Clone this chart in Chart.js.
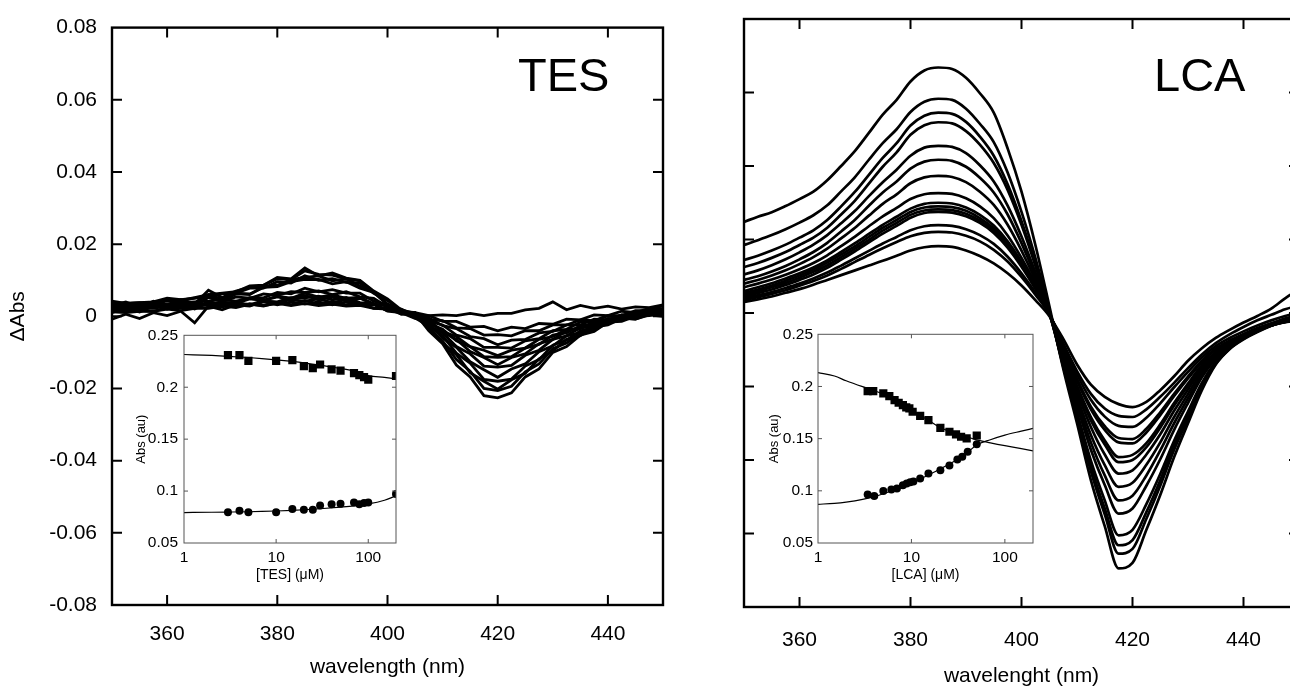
<!DOCTYPE html>
<html><head><meta charset="utf-8">
<script src="https://cdn.jsdelivr.net/npm/chart.js@4.4.1/dist/chart.umd.min.js"></script>
<style>
html,body{margin:0;padding:0;background:#fff;width:1290px;height:686px;overflow:hidden;position:relative;font-family:"Liberation Sans",Arial,Helvetica,sans-serif;}
canvas{position:absolute;display:block;}
.tag{position:absolute;font-size:47px;line-height:1;color:#000;white-space:nowrap;}
</style></head><body>
<canvas id="mainL" width="700" height="686" style="left:0;top:0;"></canvas>
<canvas id="mainR" width="620" height="692" style="left:700px;top:0;"></canvas>
<canvas id="insetL" width="290" height="270" style="left:120px;top:320px;"></canvas>
<canvas id="insetR" width="292" height="270" style="left:755px;top:320px;"></canvas>
<div class="tag" style="left:518px;top:51px;">TES</div>
<div class="tag" style="left:1154px;top:51px;">LCA</div>
<script>
// ---------- data ----------
const wavelengths = [350,352.5,355,357.5,360,362.5,365,367.5,370,372.5,375,377.5,380,382.5,385,387.5,390,392.5,395,397.5,400,402.5,405,407.5,410,412.5,415,417.5,420,422.5,425,427.5,430,432.5,435,437.5,440,442.5,445,447.5,450];
const xTickValues = [360,380,400,420,440];
const xTickLabels = ['360','380','400','420','440'];
const yTickValues = [-0.08,-0.06,-0.04,-0.02,0,0.02,0.04,0.06,0.08];
const yTickLabels = ['-0.08','-0.06','-0.04','-0.02','0','0.02','0.04','0.06','0.08'];

// TES difference spectra (ΔAbs)
const tes01 = [0.0020,0.0030,0.0018,0.0034,0.0030,0.0046,0.0034,0.0072,0.0052,0.0070,0.0080,0.0086,0.0108,0.0104,0.0134,0.0112,0.0120,0.0106,0.0100,0.0070,0.0048,0.0018,0.0008,-0.0040,-0.0076,-0.0135,-0.0168,-0.0220,-0.0226,-0.0212,-0.0168,-0.0146,-0.0100,-0.0084,-0.0052,-0.0042,-0.0016,-0.0014,0.0000,0.0002,0.0012];
const tes02 = [0.0034,0.0030,0.0032,0.0036,0.0046,0.0044,0.0052,0.0060,0.0064,0.0068,0.0084,0.0086,0.0104,0.0102,0.0126,0.0116,0.0114,0.0104,0.0098,0.0068,0.0046,0.0014,0.0006,-0.0034,-0.0068,-0.0120,-0.0152,-0.0200,-0.0206,-0.0194,-0.0154,-0.0132,-0.0090,-0.0074,-0.0048,-0.0038,-0.0014,-0.0010,0.0004,0.0006,0.0016];
const tes03 = [0.0010,0.0024,0.0012,0.0028,0.0024,0.0038,0.0026,0.0054,0.0042,0.0062,0.0060,0.0082,0.0086,0.0102,0.0108,0.0112,0.0098,0.0104,0.0084,0.0068,0.0034,0.0018,-0.0004,-0.0028,-0.0074,-0.0106,-0.0156,-0.0180,-0.0202,-0.0176,-0.0158,-0.0118,-0.0096,-0.0064,-0.0054,-0.0030,-0.0024,-0.0006,-0.0008,0.0006,0.0006];
const tes04 = [0.0038,0.0036,0.0038,0.0040,0.0050,0.0046,0.0050,0.0058,0.0062,0.0064,0.0078,0.0078,0.0096,0.0092,0.0112,0.0100,0.0104,0.0094,0.0092,0.0064,0.0044,0.0014,0.0010,-0.0026,-0.0054,-0.0102,-0.0130,-0.0175,-0.0180,-0.0174,-0.0138,-0.0120,-0.0080,-0.0066,-0.0040,-0.0032,-0.0008,-0.0008,0.0008,0.0010,0.0022];
const tes05 = [0.0022,0.0034,0.0022,0.0038,0.0032,0.0046,0.0036,0.0060,0.0048,0.0064,0.0062,0.0080,0.0082,0.0096,0.0102,0.0102,0.0090,0.0096,0.0078,0.0066,0.0032,0.0018,-0.0002,-0.0020,-0.0060,-0.0086,-0.0126,-0.0148,-0.0169,-0.0146,-0.0132,-0.0098,-0.0082,-0.0054,-0.0046,-0.0024,-0.0018,-0.0002,-0.0002,0.0010,0.0010];
const tes06 = [0.0012,0.0010,0.0014,0.0014,0.0024,0.0022,0.0026,0.0034,0.0038,0.0038,0.0052,0.0051,0.0066,0.0062,0.0078,0.0068,0.0074,0.0064,0.0064,0.0042,0.0032,0.0008,0.0004,-0.0026,-0.0046,-0.0084,-0.0104,-0.0138,-0.0141,-0.0136,-0.0108,-0.0094,-0.0064,-0.0054,-0.0032,-0.0028,-0.0008,-0.0008,0.0006,0.0004,0.0014];
const tes07 = [0.0030,0.0040,0.0026,0.0042,0.0032,0.0044,0.0030,0.0052,0.0040,0.0054,0.0050,0.0062,0.0058,0.0068,0.0066,0.0070,0.0060,0.0068,0.0054,0.0050,0.0026,0.0020,0.0002,-0.0010,-0.0044,-0.0064,-0.0098,-0.0114,-0.0134,-0.0114,-0.0104,-0.0076,-0.0064,-0.0040,-0.0034,-0.0014,-0.0012,0.0004,0.0002,0.0018,0.0020];
const tes08 = [0.0022,0.0020,0.0024,0.0022,0.0028,0.0026,0.0030,0.0034,0.0038,0.0036,0.0048,0.0044,0.0056,0.0050,0.0064,0.0053,0.0059,0.0050,0.0052,0.0034,0.0028,0.0006,0.0006,-0.0020,-0.0036,-0.0068,-0.0084,-0.0112,-0.0114,-0.0112,-0.0088,-0.0078,-0.0052,-0.0046,-0.0026,-0.0024,-0.0006,-0.0008,0.0006,0.0004,0.0016];
const tes09 = [-0.0008,0.0006,-0.0006,0.0010,0.0002,0.0014,-0.0018,0.0028,0.0018,0.0032,0.0028,0.0042,0.0040,0.0052,0.0051,0.0056,0.0046,0.0052,0.0038,0.0036,0.0014,0.0010,-0.0006,-0.0014,-0.0042,-0.0056,-0.0084,-0.0094,-0.0109,-0.0094,-0.0088,-0.0064,-0.0056,-0.0036,-0.0034,-0.0018,-0.0018,-0.0004,-0.0008,0.0004,0.0000];
const tes10 = [0.0042,0.0036,0.0038,0.0036,0.0042,0.0038,0.0040,0.0042,0.0046,0.0042,0.0050,0.0044,0.0054,0.0046,0.0058,0.0046,0.0054,0.0046,0.0050,0.0034,0.0030,0.0010,0.0010,-0.0014,-0.0024,-0.0052,-0.0062,-0.0086,-0.0086,-0.0088,-0.0068,-0.0062,-0.0040,-0.0036,-0.0016,-0.0014,0.0002,0.0002,0.0016,0.0016,0.0030];
const tes11 = [0.0018,0.0030,0.0016,0.0030,0.0020,0.0032,0.0020,0.0038,0.0026,0.0038,0.0032,0.0044,0.0038,0.0046,0.0042,0.0048,0.0038,0.0046,0.0034,0.0034,0.0016,0.0014,0.0000,-0.0004,-0.0026,-0.0034,-0.0056,-0.0062,-0.0079,-0.0066,-0.0064,-0.0046,-0.0042,-0.0024,-0.0024,-0.0008,-0.0010,0.0004,0.0000,0.0014,0.0012];
const tes12 = [0.0019,0.0014,0.0016,0.0014,0.0020,0.0016,0.0022,0.0022,0.0028,0.0024,0.0034,0.0028,0.0038,0.0032,0.0044,0.0034,0.0040,0.0032,0.0036,0.0022,0.0022,0.0006,0.0008,-0.0010,-0.0012,-0.0032,-0.0034,-0.0052,-0.0051,-0.0054,-0.0040,-0.0040,-0.0024,-0.0024,-0.0010,-0.0012,0.0002,-0.0002,0.0010,0.0006,0.0018];
const tes13 = [0.0026,0.0036,0.0024,0.0036,0.0026,0.0038,0.0026,0.0040,0.0028,0.0038,0.0030,0.0040,0.0032,0.0040,0.0034,0.0040,0.0032,0.0040,0.0030,0.0032,0.0016,0.0016,0.0002,0.0002,-0.0014,-0.0014,-0.0030,-0.0028,-0.0040,-0.0030,-0.0034,-0.0020,-0.0022,-0.0008,-0.0010,0.0004,0.0002,0.0014,0.0010,0.0022,0.0020];
const tes14 = [0.0028,0.0024,0.0028,0.0026,0.0032,0.0028,0.0032,0.0030,0.0034,0.0030,0.0034,0.0030,0.0036,0.0030,0.0036,0.0030,0.0034,0.0028,0.0030,0.0022,0.0020,0.0010,0.0010,0.0002,0.0004,0.0002,0.0008,0.0002,0.0008,0.0008,0.0018,0.0022,0.0040,0.0018,0.0030,0.0022,0.0028,0.0020,0.0026,0.0024,0.0032];

// LCA difference spectra (ΔAbs)
const lca01 = [0.0248,0.0262,0.0274,0.0291,0.0310,0.0330,0.0361,0.0400,0.0441,0.0490,0.0540,0.0580,0.0630,0.0660,0.0668,0.0664,0.0640,0.0598,0.0545,0.0448,0.0330,0.0185,0.0020,-0.0150,-0.0300,-0.0455,-0.0580,-0.0695,-0.0680,-0.0590,-0.0495,-0.0392,-0.0300,-0.0210,-0.0140,-0.0098,-0.0070,-0.0050,-0.0032,-0.0015,-0.0005];
const lca02 = [0.0185,0.0198,0.0212,0.0228,0.0246,0.0266,0.0293,0.0331,0.0370,0.0417,0.0462,0.0500,0.0547,0.0575,0.0583,0.0580,0.0556,0.0515,0.0465,0.0382,0.0275,0.0150,0.0010,-0.0145,-0.0285,-0.0430,-0.0548,-0.0655,-0.0642,-0.0560,-0.0470,-0.0372,-0.0288,-0.0200,-0.0138,-0.0098,-0.0072,-0.0052,-0.0035,-0.0020,-0.0012];
const lca03 = [0.0144,0.0156,0.0170,0.0186,0.0205,0.0225,0.0253,0.0290,0.0330,0.0376,0.0422,0.0462,0.0510,0.0537,0.0545,0.0542,0.0520,0.0480,0.0428,0.0350,0.0250,0.0135,0.0005,-0.0142,-0.0278,-0.0418,-0.0532,-0.0632,-0.0618,-0.0542,-0.0455,-0.0360,-0.0278,-0.0195,-0.0135,-0.0095,-0.0070,-0.0050,-0.0034,-0.0022,-0.0015];
const lca04 = [0.0125,0.0136,0.0150,0.0166,0.0185,0.0205,0.0232,0.0268,0.0306,0.0352,0.0398,0.0437,0.0485,0.0511,0.0519,0.0516,0.0495,0.0458,0.0408,0.0335,0.0240,0.0128,0.0002,-0.0138,-0.0270,-0.0402,-0.0510,-0.0605,-0.0590,-0.0520,-0.0438,-0.0348,-0.0268,-0.0190,-0.0132,-0.0094,-0.0068,-0.0050,-0.0034,-0.0022,-0.0016];
const lca05 = [0.0105,0.0116,0.0130,0.0146,0.0165,0.0186,0.0212,0.0244,0.0278,0.0318,0.0356,0.0390,0.0428,0.0450,0.0455,0.0452,0.0435,0.0402,0.0358,0.0292,0.0208,0.0110,0.0000,-0.0128,-0.0252,-0.0372,-0.0468,-0.0546,-0.0532,-0.0470,-0.0398,-0.0318,-0.0245,-0.0175,-0.0125,-0.0090,-0.0066,-0.0048,-0.0033,-0.0022,-0.0018];
const lca06 = [0.0090,0.0100,0.0113,0.0128,0.0146,0.0166,0.0191,0.0222,0.0254,0.0292,0.0328,0.0358,0.0393,0.0412,0.0417,0.0414,0.0398,0.0368,0.0328,0.0268,0.0190,0.0100,-0.0002,-0.0122,-0.0240,-0.0352,-0.0442,-0.0510,-0.0497,-0.0442,-0.0374,-0.0300,-0.0232,-0.0168,-0.0120,-0.0088,-0.0066,-0.0048,-0.0034,-0.0024,-0.0020];
const lca07 = [0.0080,0.0090,0.0102,0.0116,0.0133,0.0152,0.0175,0.0203,0.0232,0.0265,0.0297,0.0323,0.0353,0.0369,0.0373,0.0370,0.0356,0.0330,0.0294,0.0240,0.0170,0.0090,0.0000,-0.0116,-0.0228,-0.0332,-0.0414,-0.0473,-0.0462,-0.0413,-0.0352,-0.0283,-0.0220,-0.0160,-0.0116,-0.0086,-0.0064,-0.0047,-0.0034,-0.0025,-0.0022];
const lca08 = [0.0070,0.0080,0.0091,0.0104,0.0119,0.0136,0.0157,0.0182,0.0208,0.0236,0.0263,0.0286,0.0310,0.0323,0.0326,0.0324,0.0312,0.0290,0.0258,0.0211,0.0150,0.0080,0.0000,-0.0110,-0.0215,-0.0310,-0.0385,-0.0437,-0.0428,-0.0385,-0.0330,-0.0266,-0.0208,-0.0152,-0.0112,-0.0084,-0.0063,-0.0046,-0.0033,-0.0024,-0.0022];
const lca09 = [0.0060,0.0070,0.0081,0.0094,0.0108,0.0124,0.0143,0.0166,0.0190,0.0215,0.0240,0.0262,0.0284,0.0297,0.0300,0.0298,0.0287,0.0267,0.0238,0.0195,0.0139,0.0074,0.0000,-0.0105,-0.0205,-0.0292,-0.0358,-0.0406,-0.0400,-0.0365,-0.0312,-0.0252,-0.0198,-0.0146,-0.0108,-0.0082,-0.0062,-0.0045,-0.0032,-0.0022,-0.0018];
const lca10 = [0.0055,0.0064,0.0075,0.0088,0.0102,0.0118,0.0137,0.0159,0.0182,0.0207,0.0232,0.0253,0.0275,0.0287,0.0290,0.0288,0.0278,0.0258,0.0230,0.0189,0.0134,0.0071,-0.0002,-0.0102,-0.0198,-0.0283,-0.0347,-0.0392,-0.0386,-0.0354,-0.0303,-0.0245,-0.0192,-0.0142,-0.0106,-0.0081,-0.0061,-0.0045,-0.0033,-0.0024,-0.0020];
const lca11 = [0.0050,0.0059,0.0070,0.0082,0.0096,0.0112,0.0130,0.0152,0.0175,0.0199,0.0224,0.0245,0.0267,0.0279,0.0282,0.0280,0.0270,0.0251,0.0223,0.0183,0.0130,0.0068,0.0000,-0.0095,-0.0185,-0.0262,-0.0318,-0.0352,-0.0355,-0.0325,-0.0278,-0.0226,-0.0178,-0.0134,-0.0100,-0.0078,-0.0059,-0.0043,-0.0030,-0.0020,-0.0012];
const lca12 = [0.0045,0.0054,0.0064,0.0076,0.0090,0.0105,0.0123,0.0145,0.0168,0.0192,0.0216,0.0237,0.0259,0.0272,0.0275,0.0273,0.0263,0.0245,0.0218,0.0178,0.0126,0.0066,0.0000,-0.0093,-0.0180,-0.0255,-0.0308,-0.0340,-0.0343,-0.0315,-0.0270,-0.0220,-0.0173,-0.0130,-0.0097,-0.0075,-0.0057,-0.0041,-0.0028,-0.0016,-0.0008];
const lca13 = [0.0040,0.0048,0.0057,0.0068,0.0080,0.0094,0.0110,0.0129,0.0149,0.0169,0.0189,0.0207,0.0225,0.0236,0.0239,0.0237,0.0228,0.0212,0.0188,0.0153,0.0108,0.0056,-0.0002,-0.0088,-0.0168,-0.0236,-0.0282,-0.0307,-0.0310,-0.0285,-0.0246,-0.0202,-0.0160,-0.0121,-0.0090,-0.0068,-0.0050,-0.0034,-0.0020,-0.0008,0.0002];
const lca14 = [0.0035,0.0043,0.0052,0.0062,0.0074,0.0087,0.0102,0.0120,0.0139,0.0158,0.0176,0.0193,0.0209,0.0218,0.0221,0.0219,0.0210,0.0195,0.0172,0.0140,0.0098,0.0050,-0.0003,-0.0082,-0.0158,-0.0220,-0.0260,-0.0280,-0.0283,-0.0262,-0.0228,-0.0190,-0.0150,-0.0113,-0.0082,-0.0058,-0.0038,-0.0020,-0.0005,0.0010,0.0020];
const lca15 = [0.0030,0.0037,0.0045,0.0055,0.0065,0.0077,0.0090,0.0103,0.0116,0.0129,0.0142,0.0156,0.0170,0.0179,0.0182,0.0180,0.0170,0.0155,0.0135,0.0108,0.0075,0.0035,-0.0008,-0.0070,-0.0140,-0.0195,-0.0228,-0.0248,-0.0256,-0.0242,-0.0210,-0.0172,-0.0130,-0.0096,-0.0068,-0.0046,-0.0026,-0.0008,0.0012,0.0040,0.0065];

// Insets: [ligand] (µM) vs Abs (au)
const insetXTicks = [1,10,100];
const insetXLabels = ['1','10','100'];
const insetYTicks = [0.05,0.1,0.15,0.2,0.25];
const insetYLabels = ['0.05','0.1','0.15','0.2','0.25'];

const tesConc = [3,4,5,10,15,20,25,30,40,50,70,80,90,100,200];
const tesSquares = [0.2309,0.2309,0.2254,0.2254,0.2260,0.2203,0.2184,0.2219,0.2171,0.2159,0.2136,0.2117,0.2098,0.2073,0.2108];
const tesCircles = [0.0797,0.0810,0.0797,0.0797,0.0828,0.0819,0.0819,0.0860,0.0873,0.0879,0.0889,0.0873,0.0886,0.0889,0.0972];
const tesFitConc = [1,2,3,5,7,10,15,20,30,50,70,100,150,200];
const tesFitSquares = [0.2315,0.2306,0.2298,0.2286,0.2276,0.2264,0.2248,0.2235,0.2213,0.2180,0.2157,0.2112,0.2094,0.2080];
const tesFitCircles = [0.0793,0.0796,0.0798,0.0801,0.0804,0.0808,0.0814,0.0820,0.0830,0.0846,0.0858,0.0876,0.0912,0.0954];

const lcaSqConc = [3.4,3.9,5,5.8,6.6,7.3,8.1,8.8,9.5,10.3,12.4,15.2,20.4,25.5,30,34,39,50];
const lcaSquares = [0.1956,0.1956,0.1934,0.1908,0.1870,0.1844,0.1822,0.1800,0.1790,0.1758,0.1719,0.1678,0.1604,0.1566,0.1540,0.1518,0.1502,0.1530];
const lcaCiConc = [3.4,4,5,6.1,7,8.1,8.9,9.7,10.5,12.4,15.2,20.4,25.5,31,35,40,50];
const lcaCircles = [0.0964,0.0951,0.0999,0.1012,0.1022,0.1054,0.1070,0.1082,0.1089,0.1118,0.1166,0.1198,0.1242,0.1300,0.1326,0.1374,0.1447];
const lcaFitConc = [1,1.5,2,3,4,5,7,10,15,20,30,40,50,70,100,150,200];
const lcaFitSquares = [0.2132,0.2100,0.2055,0.1998,0.1960,0.1928,0.1860,0.1767,0.1680,0.1610,0.1550,0.1515,0.1488,0.1460,0.1433,0.1405,0.1383];
const lcaFitCircles = [0.0871,0.0880,0.0892,0.0918,0.0945,0.0972,0.1018,0.1072,0.1150,0.1207,0.1294,0.1370,0.1440,0.1490,0.1534,0.1572,0.1598];

const tesSeries = [tes01,tes02,tes03,tes04,tes05,tes06,tes07,tes08,tes09,tes10,tes11,tes12,tes13,tes14];
const lcaSeries = [lca01,lca02,lca03,lca04,lca05,lca06,lca07,lca08,lca09,lca10,lca11,lca12,lca13,lca14,lca15];

// ---------- drawing ----------
Chart.defaults.font.family = "'Liberation Sans', Arial, Helvetica, sans-serif";
Chart.defaults.color = '#000';

const framePlugin = {
  id: 'frame',
  afterDraw(chart, args, o) {
    const {ctx, chartArea: a} = chart;
    const xs = chart.scales.x, ys = chart.scales.y;
    ctx.save();
    ctx.strokeStyle = o.color;
    ctx.lineWidth = o.tickWidth;
    ctx.beginPath();
    xs.ticks.forEach(t => {
      const p = xs.getPixelForValue(t.value);
      if (p < a.left + 1 || p > a.right - 1) return;
      ctx.moveTo(p, a.bottom); ctx.lineTo(p, a.bottom - o.tick);
      ctx.moveTo(p, a.top); ctx.lineTo(p, a.top + o.tick);
    });
    ys.ticks.forEach(t => {
      const p = ys.getPixelForValue(t.value);
      if (p < a.top + 1 || p > a.bottom - 1) return;
      ctx.moveTo(a.left, p); ctx.lineTo(a.left + o.tick, p);
      ctx.moveTo(a.right, p); ctx.lineTo(a.right - o.tick, p);
    });
    ctx.stroke();
    ctx.lineWidth = o.width;
    ctx.strokeRect(a.left, a.top, a.right - a.left, a.bottom - a.top);
    ctx.restore();
  }
};

function pts(xs, ys) { return ys.map((v, i) => ({x: xs[i], y: v})); }

function mainChart(id, series, cfg) {
  return new Chart(document.getElementById(id), {
    type: 'scatter',
    data: {
      datasets: series.map(s => ({
        data: pts(wavelengths, s),
        showLine: true,
        borderColor: '#000',
        borderWidth: cfg.lineWidth,
        pointRadius: 0,
        tension: cfg.smooth ? 0.35 : 0,
        cubicInterpolationMode: cfg.smooth ? 'monotone' : 'default'
      }))
    },
    options: {
      responsive: false, animation: false, devicePixelRatio: 1,
      layout: {padding: cfg.padding},
      plugins: {legend: {display: false}, tooltip: {enabled: false},
        frame: {color: '#000', width: 2.4, tick: 10, tickWidth: 2}},
      scales: {
        x: {
          type: 'linear', min: 350, max: 450,
          afterBuildTicks: s => { s.ticks = xTickValues.map(v => ({value: v})); },
          afterFit: s => { s.height = cfg.xHeight; },
          grid: {display: false, drawTicks: false}, border: {display: false},
          ticks: {autoSkip: false, maxRotation: 0, padding: cfg.xPad, font: {size: 21}, color: '#000',
            callback: (v, i) => xTickLabels[i]},
          title: {display: true, text: cfg.xTitle, font: {size: 21}, color: '#000', padding: {top: 0, bottom: cfg.xTitlePad}}
        },
        y: {
          type: 'linear', min: -0.08, max: 0.08,
          afterBuildTicks: s => { s.ticks = yTickValues.map(v => ({value: v})); },
          afterFit: s => { s.width = cfg.yWidth; },
          grid: {display: false, drawTicks: false}, border: {display: false},
          ticks: {display: cfg.yLabels, autoSkip: false, padding: 15, font: {size: 21}, color: '#000',
            callback: (v, i) => yTickLabels[i]},
          title: {display: cfg.yLabels, text: 'ΔAbs', font: {size: 21}, color: '#000', padding: {top: 6, bottom: 0}}
        }
      }
    },
    plugins: [framePlugin]
  });
}

mainChart('mainL', tesSeries, {padding: {left: 0, right: 37, top: 20, bottom: 0}, xHeight: 81, yWidth: 112,
  xPad: 17, xTitlePad: 6, xTitle: 'wavelength (nm)', yLabels: true, smooth: false, lineWidth: 2.8});
mainChart('mainR', lcaSeries, {padding: {left: 0, right: 21, top: 19, bottom: 0}, xHeight: 85, yWidth: 44,
  xPad: 21, xTitlePad: 3, xTitle: 'wavelenght (nm)', yLabels: false, smooth: true, lineWidth: 2.7});

function insetChart(id, cfg) {
  return new Chart(document.getElementById(id), {
    type: 'scatter',
    data: {
      datasets: [
        {data: pts(cfg.fitX, cfg.fitSq), showLine: true, borderColor: '#000', borderWidth: 1.2, pointRadius: 0, tension: 0.4, cubicInterpolationMode: 'monotone'},
        {data: pts(cfg.fitX, cfg.fitCi), showLine: true, borderColor: '#000', borderWidth: 1.2, pointRadius: 0, tension: 0.4, cubicInterpolationMode: 'monotone'},
        {data: pts(cfg.sqX, cfg.sq), pointStyle: 'rect', pointRadius: 5.8, backgroundColor: '#000', borderWidth: 0},
        {data: pts(cfg.ciX, cfg.ci), pointStyle: 'circle', pointRadius: 4, backgroundColor: '#000', borderWidth: 0}
      ]
    },
    options: {
      responsive: false, animation: false, devicePixelRatio: 1,
      layout: {padding: {left: 0, right: 14, top: 14, bottom: 0}},
      plugins: {legend: {display: false}, tooltip: {enabled: false},
        frame: {color: '#555', width: 1, tick: 4, tickWidth: 1}},
      scales: {
        x: {
          type: 'logarithmic', min: 1, max: 200,
          afterBuildTicks: s => { s.ticks = insetXTicks.map(v => ({value: v})); },
          afterFit: s => { s.height = 47; },
          grid: {display: false, drawTicks: false}, border: {display: false},
          ticks: {autoSkip: false, maxRotation: 0, padding: 5, font: {size: 15.5}, color: '#000',
            callback: (v, i) => insetXLabels[i]},
          title: {display: true, text: cfg.xTitle, font: {size: 14}, color: '#000', padding: {top: 0, bottom: 6}}
        },
        y: {
          type: 'linear', min: 0.05, max: 0.25,
          afterBuildTicks: s => { s.ticks = insetYTicks.map(v => ({value: v})); },
          afterFit: s => { s.width = cfg.yWidth; },
          grid: {display: false, drawTicks: false}, border: {display: false},
          ticks: {autoSkip: false, padding: cfg.yPad, font: {size: 15.5}, color: '#000',
            callback: (v, i) => insetYLabels[i]},
          title: {display: true, text: 'Abs (au)', font: {size: 13}, color: '#000', padding: {top: cfg.yTitlePad, bottom: 0}}
        }
      }
    },
    plugins: [framePlugin]
  });
}

insetChart('insetL', {fitX: tesFitConc, fitSq: tesFitSquares, fitCi: tesFitCircles,
  sqX: tesConc, sq: tesSquares, ciX: tesConc, ci: tesCircles,
  xTitle: '[TES] (μM)', yWidth: 64, yPad: 6, yTitlePad: 14});
insetChart('insetR', {fitX: lcaFitConc, fitSq: lcaFitSquares, fitCi: lcaFitCircles,
  sqX: lcaSqConc, sq: lcaSquares, ciX: lcaCiConc, ci: lcaCircles,
  xTitle: '[LCA] (μM)', yWidth: 63, yPad: 5, yTitlePad: 12});
</script>
</body></html>
